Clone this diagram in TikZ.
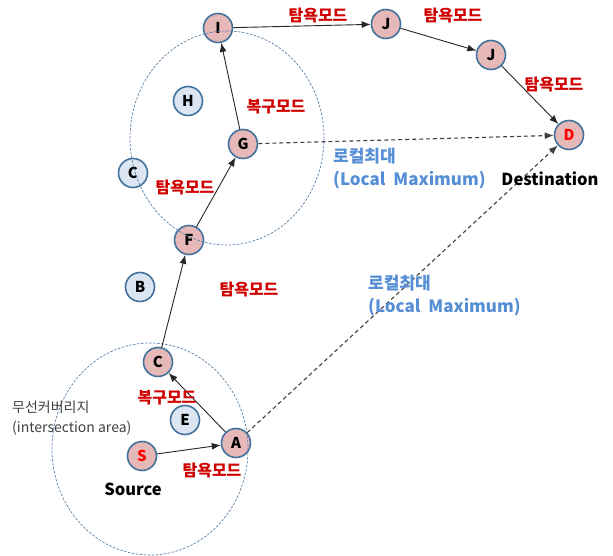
\documentclass[tikz,border=0pt]{standalone}
\usepackage{fontspec}
\setmainfont{Noto Sans CJK KR}
\usetikzlibrary{arrows.meta}
\definecolor{nodeline}{HTML}{41719C}
\definecolor{pinkfill}{HTML}{E6B9B8}
\definecolor{bluefill}{HTML}{DCE6F2}
\definecolor{modered}{HTML}{D00000}
\definecolor{localblue}{HTML}{558ED5}
\definecolor{areagray}{HTML}{404040}
\definecolor{ringblue}{HTML}{5A7FA8}
\tikzset{
  hop/.style={circle, draw=nodeline, line width=1.6pt, minimum size=29pt, inner sep=0pt,
              font=\fontsize{15}{15}\selectfont\bfseries},
  visited/.style={hop, fill=pinkfill},
  idle/.style={hop, fill=bluefill},
  modelbl/.style={text=modered, font=\fontsize{16}{18}\selectfont\bfseries, inner sep=0pt},
  locallbl/.style={text=localblue, font=\fontsize{17}{23}\selectfont\bfseries, align=left, inner sep=0pt, anchor=north west},
  endlbl/.style={font=\fontsize{16.5}{18}\selectfont\bfseries, inner sep=0pt},
  route/.style={-{Latex[length=9pt,width=7pt]}, line width=0.9pt, black!85},
  detour/.style={-{Latex[length=9pt,width=7pt]}, line width=1.1pt, black!75, dash pattern=on 4pt off 3pt},
  ring/.style={draw=ringblue, line width=0.7pt, dash pattern=on 2.5pt off 1.5pt}
}
\begin{document}
\begin{tikzpicture}[x=1pt, y=-1pt]
\useasboundingbox (0,0) rectangle (613,556);

% nodes
\node[visited] (I)  at (218,28)  {I};
\node[visited] (J1) at (386,24)  {J};
\node[visited] (J2) at (491,55)  {J};
\node[visited, text=red] (D) at (569,135) {D};
\node[idle]    (H)  at (188,101) {H};
\node[visited] (G)  at (243,144) {G};
\node[idle]    (Cu) at (133,173) {C};
\node[visited] (F)  at (189,240) {F};
\node[idle]    (B)  at (140,287) {B};
\node[visited] (Cl) at (158,362) {C};
\node[idle]    (E)  at (185,420) {E};
\node[visited, text=red] (S) at (142,456) {S};
\node[visited] (A)  at (236,443) {A};

% coverage areas
\draw[ring] (227,138) ellipse [x radius=97, y radius=107];
\draw[ring] (150,449) ellipse [x radius=98, y radius=106];

% routing path
\draw[route] (S) -- (A);
\draw[route] (A) -- (Cl);
\draw[route] (Cl) -- (F);
\draw[route] (F) -- (G);
\draw[route] (G) -- (I);
\draw[route] (I) -- (J1);
\draw[route] (J1) -- (J2);
\draw[route] (J2) -- (D);

% local maximum shortcuts
\draw[detour] (G) -- (D);
\draw[detour] (A) -- (D);

% mode labels
\node[modelbl] (m1) at (318,16)  {탐욕모드};
\node[modelbl] (m2) at (453,16)  {탐욕모드};
\node[modelbl] (m3) at (554,85)  {탐욕모드};
\node[modelbl] (m4) at (276,107) {복구모드};
\node[modelbl] (m5) at (185,188) {탐욕모드};
\node[modelbl] (m6) at (249,290) {탐욕모드};
\node[modelbl] (m7) at (167,398) {복구모드};
\node[modelbl] (m8) at (212,471) {탐욕모드};

% local maximum notes
\node[locallbl] (lm1) at (333,148) {로컬최대\\(Local\ \ Maximum)};
\node[locallbl] (lm2) at (368,275) {로컬최대\\(Local\ \ Maximum)};

% end point labels
\node[endlbl] (dst) at (550,179) {Destination};
\node[endlbl] (src) at (133,489) {Source};

% intersection area note
\node[text=areagray, font=\fontsize{14}{20}\selectfont, align=left, anchor=north west, inner sep=0pt]
  (area) at (12,401) {무선커버리지\\(intersection area)};
\end{tikzpicture}
\end{document}
